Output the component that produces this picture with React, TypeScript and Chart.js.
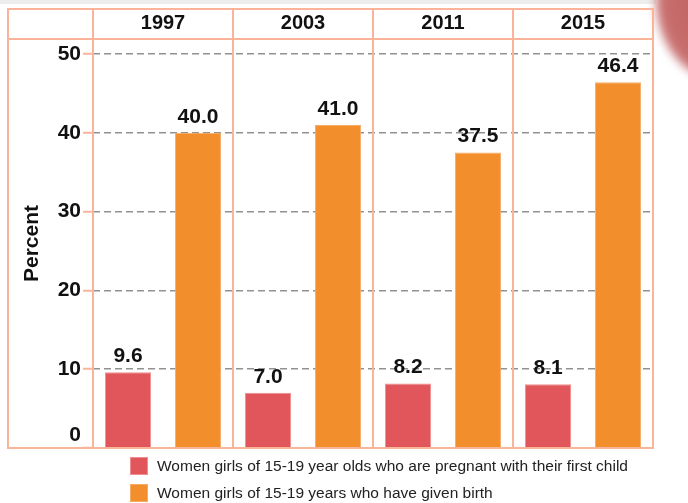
import React, { useEffect, useRef } from "react";
import { Chart, registerables } from "chart.js";

Chart.register(...registerables);

const years = ["1997", "2003", "2011", "2015"];
const pregnantFirstChild = [9.6, 7.0, 8.2, 8.1];
const givenBirth = [40.0, 41.0, 37.5, 46.4];
const seriesLabels = [
  "Women girls of 15-19 year olds who are pregnant with their first child",
  "Women girls of 15-19 years who have given birth",
];
const axisTitle = "Percent";
const yMin = 0;
const yMax = 51.9;
const yStep = 10;

const FONT = "'Liberation Sans', Arial, sans-serif";
const FRAME = "#f9b49a";
const RED = "#e0565b";
const RED_EDGE = "#f08e8e";
const ORANGE = "#f28e2c";
const ORANGE_EDGE = "#f7ac66";
const TEXT = "#111111";

const framePlugin = {
  id: "frame",
  afterDatasetsDraw(chart: any) {
    const { ctx, chartArea: a, scales } = chart;
    const xs = scales.x;
    const ys = scales.y;
    const left = ys.left;
    const top = xs.top;
    ctx.save();
    ctx.strokeStyle = FRAME;
    ctx.lineWidth = 2;
    ctx.strokeRect(left, top, a.right - left, a.bottom - top);
    ctx.beginPath();
    ctx.moveTo(left, a.top);
    ctx.lineTo(a.right, a.top);
    const n = xs.ticks.length;
    const half = (xs.getPixelForValue(1) - xs.getPixelForValue(0)) / 2;
    for (let i = 0; i < n; i++) {
      const bx = xs.getPixelForValue(i) - half;
      ctx.moveTo(bx, top);
      ctx.lineTo(bx, a.bottom);
    }
    ctx.stroke();
    ctx.restore();
  },
};

const valueLabelPlugin = {
  id: "valueLabels",
  afterDatasetsDraw(chart: any) {
    const { ctx } = chart;
    ctx.save();
    ctx.font = `bold 21px ${FONT}`;
    ctx.fillStyle = TEXT;
    ctx.textAlign = "center";
    ctx.textBaseline = "alphabetic";
    chart.data.datasets.forEach((ds: any, di: number) => {
      const meta = chart.getDatasetMeta(di);
      meta.data.forEach((el: any, i: number) => {
        ctx.fillText(Number(ds.data[i]).toFixed(1), el.x, el.y - 10);
      });
    });
    ctx.restore();
  },
};

const legendPlugin = {
  id: "customLegend",
  afterDraw(chart: any) {
    const { ctx, chartArea: a } = chart;
    ctx.save();
    ctx.font = `15.5px ${FONT}`;
    ctx.textAlign = "left";
    ctx.textBaseline = "middle";
    chart.data.datasets.forEach((ds: any, i: number) => {
      const sx = 130;
      const sy = a.bottom + 9 + i * 27;
      ctx.fillStyle = ds.backgroundColor;
      ctx.fillRect(sx, sy, 18, 18);
      ctx.strokeStyle = ds.borderColor;
      ctx.lineWidth = 1;
      ctx.strokeRect(sx + 0.5, sy + 0.5, 17, 17);
      ctx.fillStyle = "#222222";
      ctx.fillText(ds.label, 157, sy + 10);
    });
    ctx.restore();
  },
};

export default function App() {
  const ref = useRef<HTMLCanvasElement | null>(null);

  useEffect(() => {
    if (!ref.current) return;
    const chart = new Chart(ref.current, {
      type: "bar",
      data: {
        labels: years,
        datasets: [
          {
            label: seriesLabels[0],
            data: pregnantFirstChild,
            backgroundColor: RED,
            borderColor: RED_EDGE,
            borderWidth: 1,
            barPercentage: 0.66,
            categoryPercentage: 1,
          },
          {
            label: seriesLabels[1],
            data: givenBirth,
            backgroundColor: ORANGE,
            borderColor: ORANGE_EDGE,
            borderWidth: 1,
            barPercentage: 0.66,
            categoryPercentage: 1,
          },
        ],
      },
      options: {
        responsive: false,
        animation: false,
        devicePixelRatio: 1,
        layout: { padding: { left: 8, top: 9, right: 35, bottom: 55 } },
        plugins: {
          legend: { display: false },
          tooltip: { enabled: false },
        },
        scales: {
          x: {
            position: "top",
            offset: true,
            grid: { display: false, drawTicks: false, tickLength: 0 },
            border: { display: false },
            ticks: {
              font: { family: FONT, size: 20, weight: "bold" },
              color: TEXT,
              padding: 4,
              maxRotation: 0,
            },
            afterFit: (s: any) => {
              s.height = 30;
            },
          },
          y: {
            min: yMin,
            max: yMax,
            grid: {
              color: "#929292",
              lineWidth: 1.5,
              tickColor: FRAME,
              tickWidth: 2,
              tickLength: 10,
            },
            border: { display: false, dash: [7, 4] },
            ticks: {
              stepSize: yStep,
              includeBounds: false,
              font: { family: FONT, size: 21, weight: "bold" },
              color: TEXT,
              padding: 2,
              callback: (v: any) => (Number(v) === 0 ? ["0", ""] : String(v)),
            },
            title: {
              display: true,
              text: axisTitle,
              font: { family: FONT, size: 21, weight: "bold" },
              color: TEXT,
              padding: { top: 12, bottom: 0 },
            },
            afterFit: (s: any) => {
              s.width = 85;
            },
          },
        },
      },
      plugins: [framePlugin, valueLabelPlugin, legendPlugin],
    } as any);
    return () => chart.destroy();
  }, []);

  return (
    <div
      style={{
        position: "absolute",
        left: 0,
        top: 0,
        width: 688,
        height: 503,
        overflow: "hidden",
        background: "#ffffff",
      }}
    >
      <div
        style={{
          position: "absolute",
          left: 0,
          top: 0,
          width: 656,
          height: 4,
          background: "#ededed",
        }}
      />
      <div
        style={{
          position: "absolute",
          left: 656,
          top: -80,
          width: 128,
          height: 160,
          borderRadius: "50%",
          background: "radial-gradient(ellipse at center, #c05f5f 0%, #c66a6a 55%, #d48a8a 85%, rgba(230,170,170,0.6) 100%)",
          filter: "blur(5px)",
        }}
      />
      <canvas
        ref={ref}
        width={688}
        height={503}
        style={{ position: "absolute", left: 0, top: 0, display: "block" }}
      />
    </div>
  );
}
